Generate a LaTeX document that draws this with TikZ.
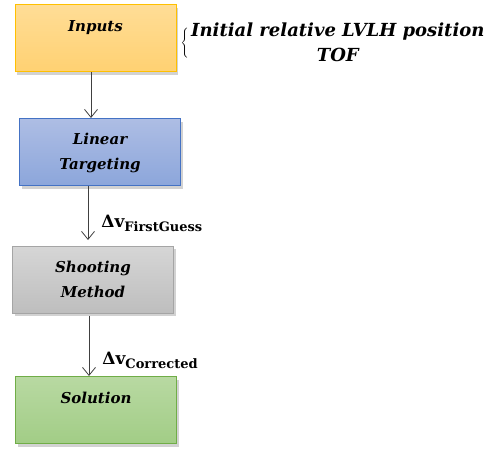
\documentclass[tikz,border=0pt]{standalone}
\usepackage{fontspec}
\setmainfont{DejaVu Serif}
\usepackage{tikz}
\usetikzlibrary{arrows.meta,shadows}

\definecolor{inTop}{HTML}{FFDD96}
\definecolor{inBot}{HTML}{FFD172}
\definecolor{inLine}{HTML}{FFC000}
\definecolor{ltTop}{HTML}{ADBDE4}
\definecolor{ltBot}{HTML}{8CA6DB}
\definecolor{ltLine}{HTML}{4472C4}
\definecolor{smTop}{HTML}{D6D6D6}
\definecolor{smBot}{HTML}{BEBEBE}
\definecolor{smLine}{HTML}{A5A5A5}
\definecolor{soTop}{HTML}{B8D9A2}
\definecolor{soBot}{HTML}{A2CD86}
\definecolor{soLine}{HTML}{70AD47}

\begin{document}
\begin{tikzpicture}
[x=1pt,y=-1pt,
block/.style ={rectangle, draw, line width=1pt, minimum width=161pt, minimum height=67pt,
  align=center, font={\fontsize{15}{25}\selectfont\bfseries\itshape}, inner sep=0pt,
  drop shadow={shadow xshift=2pt, shadow yshift=-3pt, fill=black!35, opacity=0.5}},
arrow/.style ={draw=black!75, line width=0.8pt, -{Straight Barb[length=8pt,width=13pt]}},
dv label/.style={anchor=base west, xshift=13pt, font={\fontsize{17}{20}\selectfont\bfseries}, inner sep=0pt}]
    \useasboundingbox (0,0) rectangle (495,449);
    \node[block, draw=inLine, top color=inTop, bottom color=inBot] (inputs) at (95.5,38.5) {Inputs\\~};
    \node[block, draw=ltLine, top color=ltTop, bottom color=ltBot] (linear) at (100,152.5) {Linear\\Targeting};
    \node[block, draw=smLine, top color=smTop, bottom color=smBot] (shooting) at (93,279.5) {Shooting\\Method};
    \node[block, draw=soLine, top color=soTop, bottom color=soBot] (solution) at (96,410) {Solution\\~};
    % annotation of the inputs
    \node[anchor=west, font={\fontsize{18}{25}\selectfont\bfseries\itshape}, inner sep=0pt, align=center] (inlist) at (191,42)
      {Initial relative LVLH position\\TOF};
    \node[anchor=east, inner sep=0pt] (brace) at ([xshift=-1pt,yshift=-1pt]inlist.west) {$\left\{\rule{0pt}{16pt}\right.$};
    \coordinate (a1) at (91,72);
    \coordinate (a2) at (91,118);
    \coordinate (b1) at (88,186);
    \coordinate (b2) at (88,240);
    \coordinate (c1) at (89,316);
    \coordinate (c2) at (89,376);
    \path (a1) edge[arrow] (a2);
    \path (b1) edge[arrow] node[dv label, pos=0.76] {Δv\raisebox{-4pt}{\fontsize{13}{13}\selectfont FirstGuess}} (b2);
    \path (c1) edge[arrow] node[dv label, pos=0.8] {Δv\raisebox{-4pt}{\fontsize{13}{13}\selectfont Corrected}} (c2);
\end{tikzpicture}
\end{document}
